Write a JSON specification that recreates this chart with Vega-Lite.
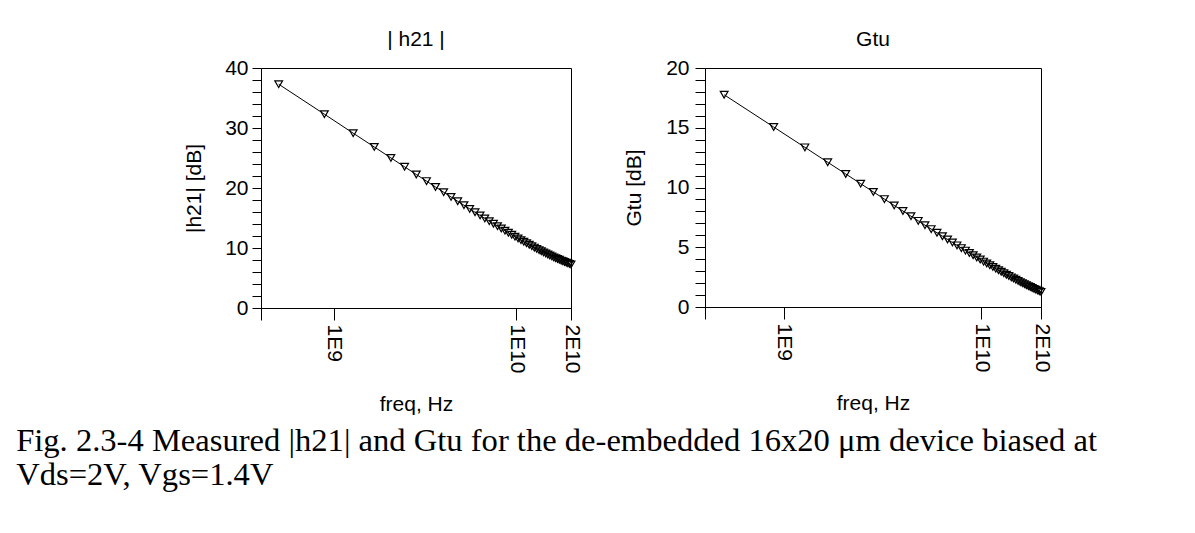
{
  "$schema": "https://vega.github.io/schema/vega-lite/v6.json",
  "padding": {"left": 16, "top": 28, "right": 5, "bottom": 5},
  "background": "white",
  "data": {"values": [
    {"freq": 5e8, "h21": 37.30, "gtu": 17.76},
    {"freq": 8.9e8, "h21": 32.30, "gtu": 15.06},
    {"freq": 1.28e9, "h21": 29.14, "gtu": 13.36},
    {"freq": 1.67e9, "h21": 26.84, "gtu": 12.11},
    {"freq": 2.06e9, "h21": 25.02, "gtu": 11.13},
    {"freq": 2.45e9, "h21": 23.53, "gtu": 10.32},
    {"freq": 2.84e9, "h21": 22.25, "gtu": 9.63},
    {"freq": 3.23e9, "h21": 21.15, "gtu": 9.03},
    {"freq": 3.62e9, "h21": 20.17, "gtu": 8.50},
    {"freq": 4.01e9, "h21": 19.30, "gtu": 8.03},
    {"freq": 4.40e9, "h21": 18.51, "gtu": 7.60},
    {"freq": 4.79e9, "h21": 17.79, "gtu": 7.21},
    {"freq": 5.18e9, "h21": 17.13, "gtu": 6.85},
    {"freq": 5.57e9, "h21": 16.52, "gtu": 6.52},
    {"freq": 5.96e9, "h21": 15.95, "gtu": 6.21},
    {"freq": 6.35e9, "h21": 15.43, "gtu": 5.92},
    {"freq": 6.74e9, "h21": 14.93, "gtu": 5.65},
    {"freq": 7.13e9, "h21": 14.47, "gtu": 5.40},
    {"freq": 7.52e9, "h21": 14.04, "gtu": 5.16},
    {"freq": 7.91e9, "h21": 13.63, "gtu": 4.93},
    {"freq": 8.30e9, "h21": 13.24, "gtu": 4.72},
    {"freq": 8.69e9, "h21": 12.88, "gtu": 4.52},
    {"freq": 9.08e9, "h21": 12.53, "gtu": 4.33},
    {"freq": 9.47e9, "h21": 12.20, "gtu": 4.14},
    {"freq": 9.86e9, "h21": 11.89, "gtu": 3.97},
    {"freq": 1.025e10, "h21": 11.59, "gtu": 3.80},
    {"freq": 1.064e10, "h21": 11.31, "gtu": 3.64},
    {"freq": 1.103e10, "h21": 11.04, "gtu": 3.49},
    {"freq": 1.142e10, "h21": 10.78, "gtu": 3.35},
    {"freq": 1.181e10, "h21": 10.53, "gtu": 3.21},
    {"freq": 1.220e10, "h21": 10.30, "gtu": 3.07},
    {"freq": 1.259e10, "h21": 10.07, "gtu": 2.95},
    {"freq": 1.298e10, "h21": 9.86, "gtu": 2.82},
    {"freq": 1.337e10, "h21": 9.65, "gtu": 2.70},
    {"freq": 1.376e10, "h21": 9.46, "gtu": 2.59},
    {"freq": 1.415e10, "h21": 9.27, "gtu": 2.48},
    {"freq": 1.454e10, "h21": 9.09, "gtu": 2.38},
    {"freq": 1.493e10, "h21": 8.91, "gtu": 2.28},
    {"freq": 1.532e10, "h21": 8.75, "gtu": 2.18},
    {"freq": 1.571e10, "h21": 8.59, "gtu": 2.08},
    {"freq": 1.610e10, "h21": 8.44, "gtu": 1.99},
    {"freq": 1.649e10, "h21": 8.29, "gtu": 1.91},
    {"freq": 1.688e10, "h21": 8.16, "gtu": 1.82},
    {"freq": 1.727e10, "h21": 8.03, "gtu": 1.74},
    {"freq": 1.766e10, "h21": 7.90, "gtu": 1.67},
    {"freq": 1.805e10, "h21": 7.78, "gtu": 1.59},
    {"freq": 1.844e10, "h21": 7.66, "gtu": 1.52},
    {"freq": 1.883e10, "h21": 7.56, "gtu": 1.45},
    {"freq": 1.922e10, "h21": 7.45, "gtu": 1.39},
    {"freq": 1.961e10, "h21": 7.35, "gtu": 1.32},
    {"freq": 2.0e10, "h21": 7.26, "gtu": 1.26}
  ]},
  "title": {
    "text": ["Fig. 2.3-4 Measured |h21| and Gtu for the de-embedded 16x20 μm device biased at", "Vds=2V, Vgs=1.4V"],
    "orient": "bottom", "anchor": "start", "font": "Liberation Serif", "fontSize": 32.6,
    "fontWeight": "normal", "color": "black", "lineHeight": 34, "offset": 10, "dx": -167
  },
  "spacing": 40,
  "hconcat": [
    {
      "width": 310, "height": 240,
      "title": {"text": "| h21 |", "offset": 7},
      "encoding": {
        "x": {"field": "freq", "type": "quantitative",
              "scale": {"type": "log", "domain": [400000000, 20000000000], "nice": false},
              "axis": {"title": "freq, Hz", "values": [400000000, 1000000000, 10000000000, 20000000000],
                       "labelExpr": "datum.value == 1e9 ? '1E9' : datum.value == 1e10 ? '1E10' : datum.value == 2e10 ? '2E10' : ''",
                       "labelAngle": 90, "labelAlign": "left", "labelBaseline": "middle", "tickSize": 12, "labelPadding": 4, "titlePadding": 20,
                       "labelFlush": false, "labelOverlap": false}},
        "y": {"field": "h21", "type": "quantitative",
              "scale": {"domain": [0, 40], "nice": false},
              "axis": {"title": "|h21|  [dB]", "values": [0,2,4,6,8,10,12,14,16,18,20,22,24,26,28,30,32,34,36,38,40],
                       "labelExpr": "datum.value % 10 == 0 ? datum.label : ''",
                       "tickSize": 9, "labelPadding": 4, "titlePadding": 20, "labelOverlap": false, "labelFlush": false}}
      },
      "layer": [
        {"mark": {"type": "line", "color": "black", "strokeWidth": 1}},
        {"mark": {"type": "point", "shape": "triangle-down", "filled": false, "stroke": "black", "strokeWidth": 1.2, "size": 60, "opacity": 1}}
      ]
    },
    {
      "width": 336, "height": 239,
      "title": {"text": "Gtu", "offset": 7},
      "encoding": {
        "x": {"field": "freq", "type": "quantitative",
              "scale": {"type": "log", "domain": [400000000, 20000000000], "nice": false},
              "axis": {"title": "freq, Hz", "values": [400000000, 1000000000, 10000000000, 20000000000],
                       "labelExpr": "datum.value == 1e9 ? '1E9' : datum.value == 1e10 ? '1E10' : datum.value == 2e10 ? '2E10' : ''",
                       "labelAngle": 90, "labelAlign": "left", "labelBaseline": "middle", "tickSize": 12, "labelPadding": 4, "titlePadding": 20,
                       "labelFlush": false, "labelOverlap": false}},
        "y": {"field": "gtu", "type": "quantitative",
              "scale": {"domain": [0, 20], "nice": false},
              "axis": {"title": "Gtu [dB]", "values": [0,1,2,3,4,5,6,7,8,9,10,11,12,13,14,15,16,17,18,19,20],
                       "labelExpr": "datum.value % 5 == 0 ? datum.label : ''",
                       "tickSize": 10, "labelPadding": 6, "titlePadding": 21, "labelOverlap": false, "labelFlush": false}}
      },
      "layer": [
        {"mark": {"type": "line", "color": "black", "strokeWidth": 1}},
        {"mark": {"type": "point", "shape": "triangle-down", "filled": false, "stroke": "black", "strokeWidth": 1.2, "size": 60, "opacity": 1}}
      ]
    }
  ],
  "config": {
    "view": {"stroke": "black", "strokeWidth": 1},
    "axis": {"labelFont": "Liberation Sans", "titleFont": "Liberation Sans", "labelFontSize": 21, "titleFontSize": 21,
             "titleFontWeight": "normal", "labelColor": "black", "titleColor": "black", "domainColor": "black",
             "tickColor": "black", "grid": false},
    "title": {"font": "Liberation Sans", "fontSize": 21, "fontWeight": "normal", "color": "black"}
  }
}
